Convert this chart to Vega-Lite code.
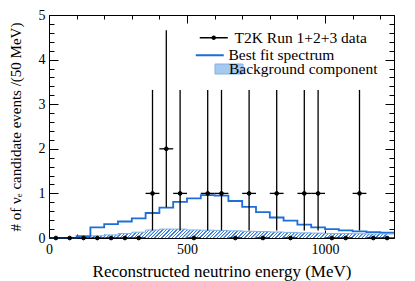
{
  "$schema": "https://vega.github.io/schema/vega-lite/v6.json",
  "width": 345,
  "height": 223,
  "autosize": "none",
  "padding": {"left": 49, "top": 15, "right": 21, "bottom": 43},
  "background": "white",
  "config": {
    "view": {"stroke": "black", "strokeWidth": 1},
    "axis": {
      "labelFont": "Liberation Serif", "titleFont": "Liberation Serif",
      "labelColor": "black", "titleColor": "black", "domainColor": "black", "tickColor": "black",
      "labelFontSize": 14, "titleFontWeight": "normal", "grid": false,
      "labelOverlap": false, "labelFlush": false, "labelBound": false, "domainWidth": 1, "tickWidth": 1
    },
    "legend": {
      "labelFont": "Liberation Serif", "labelFontSize": 15.5, "labelColor": "black",
      "labelOffset": 11, "padding": 0, "symbolSize": 100, "orient": "none"
    }
  },
  "datasets": {
    "data": [
      {"E": 25, "Elo": 0, "Ehi": 50, "n": 0},
      {"E": 75, "Elo": 50, "Ehi": 100, "n": 0},
      {"E": 125, "Elo": 100, "Ehi": 150, "n": 0},
      {"E": 175, "Elo": 150, "Ehi": 200, "n": 0},
      {"E": 225, "Elo": 200, "Ehi": 250, "n": 0},
      {"E": 275, "Elo": 250, "Ehi": 300, "n": 0},
      {"E": 325, "Elo": 300, "Ehi": 350, "n": 0},
      {"E": 375, "Elo": 350, "Ehi": 400, "n": 1, "lo": 0.17, "hi": 3.32},
      {"E": 425, "Elo": 400, "Ehi": 450, "n": 2, "lo": 0.69, "hi": 4.66},
      {"E": 475, "Elo": 450, "Ehi": 500, "n": 1, "lo": 0.17, "hi": 3.32},
      {"E": 525, "Elo": 500, "Ehi": 550, "n": 0},
      {"E": 575, "Elo": 550, "Ehi": 600, "n": 1, "lo": 0.17, "hi": 3.32},
      {"E": 625, "Elo": 600, "Ehi": 650, "n": 1, "lo": 0.17, "hi": 3.32},
      {"E": 675, "Elo": 650, "Ehi": 700, "n": 0},
      {"E": 725, "Elo": 700, "Ehi": 750, "n": 1, "lo": 0.17, "hi": 3.32},
      {"E": 775, "Elo": 750, "Ehi": 800, "n": 0},
      {"E": 825, "Elo": 800, "Ehi": 850, "n": 1, "lo": 0.17, "hi": 3.32},
      {"E": 875, "Elo": 850, "Ehi": 900, "n": 0},
      {"E": 925, "Elo": 900, "Ehi": 950, "n": 1, "lo": 0.17, "hi": 3.32},
      {"E": 975, "Elo": 950, "Ehi": 1000, "n": 1, "lo": 0.17, "hi": 3.32},
      {"E": 1025, "Elo": 1000, "Ehi": 1050, "n": 0},
      {"E": 1075, "Elo": 1050, "Ehi": 1100, "n": 0},
      {"E": 1125, "Elo": 1100, "Ehi": 1150, "n": 1, "lo": 0.17, "hi": 3.32},
      {"E": 1175, "Elo": 1150, "Ehi": 1200, "n": 0},
      {"E": 1225, "Elo": 1200, "Ehi": 1250, "n": 0}
    ],
    "fit": [
      {"E": 0, "v": 0}, {"E": 50, "v": 0}, {"E": 100, "v": 0.04}, {"E": 150, "v": 0.24},
      {"E": 200, "v": 0.31}, {"E": 250, "v": 0.37}, {"E": 300, "v": 0.44}, {"E": 350, "v": 0.56},
      {"E": 400, "v": 0.68}, {"E": 450, "v": 0.81}, {"E": 500, "v": 0.89}, {"E": 550, "v": 0.96},
      {"E": 600, "v": 0.95}, {"E": 650, "v": 0.83}, {"E": 700, "v": 0.7}, {"E": 750, "v": 0.58},
      {"E": 800, "v": 0.46}, {"E": 850, "v": 0.39}, {"E": 900, "v": 0.3}, {"E": 950, "v": 0.24},
      {"E": 1000, "v": 0.2}, {"E": 1050, "v": 0.17}, {"E": 1100, "v": 0.15}, {"E": 1150, "v": 0.13},
      {"E": 1200, "v": 0.12}, {"E": 1250, "v": 0.12}
    ],
    "bg": [
      {"E": 0, "v": 0}, {"E": 50, "v": 0.005}, {"E": 100, "v": 0.025}, {"E": 150, "v": 0.05},
      {"E": 200, "v": 0.07}, {"E": 250, "v": 0.1}, {"E": 300, "v": 0.13}, {"E": 350, "v": 0.18},
      {"E": 400, "v": 0.2}, {"E": 450, "v": 0.2}, {"E": 500, "v": 0.18}, {"E": 550, "v": 0.175},
      {"E": 600, "v": 0.17}, {"E": 650, "v": 0.16}, {"E": 700, "v": 0.15}, {"E": 750, "v": 0.145},
      {"E": 800, "v": 0.135}, {"E": 850, "v": 0.125}, {"E": 900, "v": 0.115}, {"E": 950, "v": 0.11},
      {"E": 1000, "v": 0.1}, {"E": 1050, "v": 0.1}, {"E": 1100, "v": 0.095}, {"E": 1150, "v": 0.09},
      {"E": 1200, "v": 0.09}, {"E": 1250, "v": 0.09}
    ]
  },
  "resolve": {"axis": {"x": "independent", "y": "independent"}},
  "layer": [
    {
      "data": {"name": "bg"},
      "mark": {"type": "area", "interpolate": "step-after", "opacity": 1,
        "color": {"gradient": "linear", "x1": 0, "y1": 0, "x2": 1, "y2": 0.0259, "stops": [
{"offset":0,"color":"#3a80da"},{"offset":0.0035,"color":"#3a80da"},{"offset":0.0045,"color":"#fff"},{"offset":0.0095,"color":"#fff"},
{"offset":0.01,"color":"#3a80da"},{"offset":0.0135,"color":"#3a80da"},{"offset":0.0145,"color":"#fff"},{"offset":0.0195,"color":"#fff"},
{"offset":0.02,"color":"#3a80da"},{"offset":0.0235,"color":"#3a80da"},{"offset":0.0245,"color":"#fff"},{"offset":0.0295,"color":"#fff"},
{"offset":0.03,"color":"#3a80da"},{"offset":0.0335,"color":"#3a80da"},{"offset":0.0345,"color":"#fff"},{"offset":0.0395,"color":"#fff"},
{"offset":0.04,"color":"#3a80da"},{"offset":0.0435,"color":"#3a80da"},{"offset":0.0445,"color":"#fff"},{"offset":0.0495,"color":"#fff"},
{"offset":0.05,"color":"#3a80da"},{"offset":0.0535,"color":"#3a80da"},{"offset":0.0545,"color":"#fff"},{"offset":0.0595,"color":"#fff"},
{"offset":0.06,"color":"#3a80da"},{"offset":0.0635,"color":"#3a80da"},{"offset":0.0645,"color":"#fff"},{"offset":0.0695,"color":"#fff"},
{"offset":0.07,"color":"#3a80da"},{"offset":0.0735,"color":"#3a80da"},{"offset":0.0745,"color":"#fff"},{"offset":0.0795,"color":"#fff"},
{"offset":0.08,"color":"#3a80da"},{"offset":0.0835,"color":"#3a80da"},{"offset":0.0845,"color":"#fff"},{"offset":0.0895,"color":"#fff"},
{"offset":0.09,"color":"#3a80da"},{"offset":0.0935,"color":"#3a80da"},{"offset":0.0945,"color":"#fff"},{"offset":0.0995,"color":"#fff"},
{"offset":0.10,"color":"#3a80da"},{"offset":0.1035,"color":"#3a80da"},{"offset":0.1045,"color":"#fff"},{"offset":0.1095,"color":"#fff"},
{"offset":0.11,"color":"#3a80da"},{"offset":0.1135,"color":"#3a80da"},{"offset":0.1145,"color":"#fff"},{"offset":0.1195,"color":"#fff"},
{"offset":0.12,"color":"#3a80da"},{"offset":0.1235,"color":"#3a80da"},{"offset":0.1245,"color":"#fff"},{"offset":0.1295,"color":"#fff"},
{"offset":0.13,"color":"#3a80da"},{"offset":0.1335,"color":"#3a80da"},{"offset":0.1345,"color":"#fff"},{"offset":0.1395,"color":"#fff"},
{"offset":0.14,"color":"#3a80da"},{"offset":0.1435,"color":"#3a80da"},{"offset":0.1445,"color":"#fff"},{"offset":0.1495,"color":"#fff"},
{"offset":0.15,"color":"#3a80da"},{"offset":0.1535,"color":"#3a80da"},{"offset":0.1545,"color":"#fff"},{"offset":0.1595,"color":"#fff"},
{"offset":0.16,"color":"#3a80da"},{"offset":0.1635,"color":"#3a80da"},{"offset":0.1645,"color":"#fff"},{"offset":0.1695,"color":"#fff"},
{"offset":0.17,"color":"#3a80da"},{"offset":0.1735,"color":"#3a80da"},{"offset":0.1745,"color":"#fff"},{"offset":0.1795,"color":"#fff"},
{"offset":0.18,"color":"#3a80da"},{"offset":0.1835,"color":"#3a80da"},{"offset":0.1845,"color":"#fff"},{"offset":0.1895,"color":"#fff"},
{"offset":0.19,"color":"#3a80da"},{"offset":0.1935,"color":"#3a80da"},{"offset":0.1945,"color":"#fff"},{"offset":0.1995,"color":"#fff"},
{"offset":0.20,"color":"#3a80da"},{"offset":0.2035,"color":"#3a80da"},{"offset":0.2045,"color":"#fff"},{"offset":0.2095,"color":"#fff"},
{"offset":0.21,"color":"#3a80da"},{"offset":0.2135,"color":"#3a80da"},{"offset":0.2145,"color":"#fff"},{"offset":0.2195,"color":"#fff"},
{"offset":0.22,"color":"#3a80da"},{"offset":0.2235,"color":"#3a80da"},{"offset":0.2245,"color":"#fff"},{"offset":0.2295,"color":"#fff"},
{"offset":0.23,"color":"#3a80da"},{"offset":0.2335,"color":"#3a80da"},{"offset":0.2345,"color":"#fff"},{"offset":0.2395,"color":"#fff"},
{"offset":0.24,"color":"#3a80da"},{"offset":0.2435,"color":"#3a80da"},{"offset":0.2445,"color":"#fff"},{"offset":0.2495,"color":"#fff"},
{"offset":0.25,"color":"#3a80da"},{"offset":0.2535,"color":"#3a80da"},{"offset":0.2545,"color":"#fff"},{"offset":0.2595,"color":"#fff"},
{"offset":0.26,"color":"#3a80da"},{"offset":0.2635,"color":"#3a80da"},{"offset":0.2645,"color":"#fff"},{"offset":0.2695,"color":"#fff"},
{"offset":0.27,"color":"#3a80da"},{"offset":0.2735,"color":"#3a80da"},{"offset":0.2745,"color":"#fff"},{"offset":0.2795,"color":"#fff"},
{"offset":0.28,"color":"#3a80da"},{"offset":0.2835,"color":"#3a80da"},{"offset":0.2845,"color":"#fff"},{"offset":0.2895,"color":"#fff"},
{"offset":0.29,"color":"#3a80da"},{"offset":0.2935,"color":"#3a80da"},{"offset":0.2945,"color":"#fff"},{"offset":0.2995,"color":"#fff"},
{"offset":0.30,"color":"#3a80da"},{"offset":0.3035,"color":"#3a80da"},{"offset":0.3045,"color":"#fff"},{"offset":0.3095,"color":"#fff"},
{"offset":0.31,"color":"#3a80da"},{"offset":0.3135,"color":"#3a80da"},{"offset":0.3145,"color":"#fff"},{"offset":0.3195,"color":"#fff"},
{"offset":0.32,"color":"#3a80da"},{"offset":0.3235,"color":"#3a80da"},{"offset":0.3245,"color":"#fff"},{"offset":0.3295,"color":"#fff"},
{"offset":0.33,"color":"#3a80da"},{"offset":0.3335,"color":"#3a80da"},{"offset":0.3345,"color":"#fff"},{"offset":0.3395,"color":"#fff"},
{"offset":0.34,"color":"#3a80da"},{"offset":0.3435,"color":"#3a80da"},{"offset":0.3445,"color":"#fff"},{"offset":0.3495,"color":"#fff"},
{"offset":0.35,"color":"#3a80da"},{"offset":0.3535,"color":"#3a80da"},{"offset":0.3545,"color":"#fff"},{"offset":0.3595,"color":"#fff"},
{"offset":0.36,"color":"#3a80da"},{"offset":0.3635,"color":"#3a80da"},{"offset":0.3645,"color":"#fff"},{"offset":0.3695,"color":"#fff"},
{"offset":0.37,"color":"#3a80da"},{"offset":0.3735,"color":"#3a80da"},{"offset":0.3745,"color":"#fff"},{"offset":0.3795,"color":"#fff"},
{"offset":0.38,"color":"#3a80da"},{"offset":0.3835,"color":"#3a80da"},{"offset":0.3845,"color":"#fff"},{"offset":0.3895,"color":"#fff"},
{"offset":0.39,"color":"#3a80da"},{"offset":0.3935,"color":"#3a80da"},{"offset":0.3945,"color":"#fff"},{"offset":0.3995,"color":"#fff"},
{"offset":0.40,"color":"#3a80da"},{"offset":0.4035,"color":"#3a80da"},{"offset":0.4045,"color":"#fff"},{"offset":0.4095,"color":"#fff"},
{"offset":0.41,"color":"#3a80da"},{"offset":0.4135,"color":"#3a80da"},{"offset":0.4145,"color":"#fff"},{"offset":0.4195,"color":"#fff"},
{"offset":0.42,"color":"#3a80da"},{"offset":0.4235,"color":"#3a80da"},{"offset":0.4245,"color":"#fff"},{"offset":0.4295,"color":"#fff"},
{"offset":0.43,"color":"#3a80da"},{"offset":0.4335,"color":"#3a80da"},{"offset":0.4345,"color":"#fff"},{"offset":0.4395,"color":"#fff"},
{"offset":0.44,"color":"#3a80da"},{"offset":0.4435,"color":"#3a80da"},{"offset":0.4445,"color":"#fff"},{"offset":0.4495,"color":"#fff"},
{"offset":0.45,"color":"#3a80da"},{"offset":0.4535,"color":"#3a80da"},{"offset":0.4545,"color":"#fff"},{"offset":0.4595,"color":"#fff"},
{"offset":0.46,"color":"#3a80da"},{"offset":0.4635,"color":"#3a80da"},{"offset":0.4645,"color":"#fff"},{"offset":0.4695,"color":"#fff"},
{"offset":0.47,"color":"#3a80da"},{"offset":0.4735,"color":"#3a80da"},{"offset":0.4745,"color":"#fff"},{"offset":0.4795,"color":"#fff"},
{"offset":0.48,"color":"#3a80da"},{"offset":0.4835,"color":"#3a80da"},{"offset":0.4845,"color":"#fff"},{"offset":0.4895,"color":"#fff"},
{"offset":0.49,"color":"#3a80da"},{"offset":0.4935,"color":"#3a80da"},{"offset":0.4945,"color":"#fff"},{"offset":0.4995,"color":"#fff"},
{"offset":0.50,"color":"#3a80da"},{"offset":0.5035,"color":"#3a80da"},{"offset":0.5045,"color":"#fff"},{"offset":0.5095,"color":"#fff"},
{"offset":0.51,"color":"#3a80da"},{"offset":0.5135,"color":"#3a80da"},{"offset":0.5145,"color":"#fff"},{"offset":0.5195,"color":"#fff"},
{"offset":0.52,"color":"#3a80da"},{"offset":0.5235,"color":"#3a80da"},{"offset":0.5245,"color":"#fff"},{"offset":0.5295,"color":"#fff"},
{"offset":0.53,"color":"#3a80da"},{"offset":0.5335,"color":"#3a80da"},{"offset":0.5345,"color":"#fff"},{"offset":0.5395,"color":"#fff"},
{"offset":0.54,"color":"#3a80da"},{"offset":0.5435,"color":"#3a80da"},{"offset":0.5445,"color":"#fff"},{"offset":0.5495,"color":"#fff"},
{"offset":0.55,"color":"#3a80da"},{"offset":0.5535,"color":"#3a80da"},{"offset":0.5545,"color":"#fff"},{"offset":0.5595,"color":"#fff"},
{"offset":0.56,"color":"#3a80da"},{"offset":0.5635,"color":"#3a80da"},{"offset":0.5645,"color":"#fff"},{"offset":0.5695,"color":"#fff"},
{"offset":0.57,"color":"#3a80da"},{"offset":0.5735,"color":"#3a80da"},{"offset":0.5745,"color":"#fff"},{"offset":0.5795,"color":"#fff"},
{"offset":0.58,"color":"#3a80da"},{"offset":0.5835,"color":"#3a80da"},{"offset":0.5845,"color":"#fff"},{"offset":0.5895,"color":"#fff"},
{"offset":0.59,"color":"#3a80da"},{"offset":0.5935,"color":"#3a80da"},{"offset":0.5945,"color":"#fff"},{"offset":0.5995,"color":"#fff"},
{"offset":0.60,"color":"#3a80da"},{"offset":0.6035,"color":"#3a80da"},{"offset":0.6045,"color":"#fff"},{"offset":0.6095,"color":"#fff"},
{"offset":0.61,"color":"#3a80da"},{"offset":0.6135,"color":"#3a80da"},{"offset":0.6145,"color":"#fff"},{"offset":0.6195,"color":"#fff"},
{"offset":0.62,"color":"#3a80da"},{"offset":0.6235,"color":"#3a80da"},{"offset":0.6245,"color":"#fff"},{"offset":0.6295,"color":"#fff"},
{"offset":0.63,"color":"#3a80da"},{"offset":0.6335,"color":"#3a80da"},{"offset":0.6345,"color":"#fff"},{"offset":0.6395,"color":"#fff"},
{"offset":0.64,"color":"#3a80da"},{"offset":0.6435,"color":"#3a80da"},{"offset":0.6445,"color":"#fff"},{"offset":0.6495,"color":"#fff"},
{"offset":0.65,"color":"#3a80da"},{"offset":0.6535,"color":"#3a80da"},{"offset":0.6545,"color":"#fff"},{"offset":0.6595,"color":"#fff"},
{"offset":0.66,"color":"#3a80da"},{"offset":0.6635,"color":"#3a80da"},{"offset":0.6645,"color":"#fff"},{"offset":0.6695,"color":"#fff"},
{"offset":0.67,"color":"#3a80da"},{"offset":0.6735,"color":"#3a80da"},{"offset":0.6745,"color":"#fff"},{"offset":0.6795,"color":"#fff"},
{"offset":0.68,"color":"#3a80da"},{"offset":0.6835,"color":"#3a80da"},{"offset":0.6845,"color":"#fff"},{"offset":0.6895,"color":"#fff"},
{"offset":0.69,"color":"#3a80da"},{"offset":0.6935,"color":"#3a80da"},{"offset":0.6945,"color":"#fff"},{"offset":0.6995,"color":"#fff"},
{"offset":0.70,"color":"#3a80da"},{"offset":0.7035,"color":"#3a80da"},{"offset":0.7045,"color":"#fff"},{"offset":0.7095,"color":"#fff"},
{"offset":0.71,"color":"#3a80da"},{"offset":0.7135,"color":"#3a80da"},{"offset":0.7145,"color":"#fff"},{"offset":0.7195,"color":"#fff"},
{"offset":0.72,"color":"#3a80da"},{"offset":0.7235,"color":"#3a80da"},{"offset":0.7245,"color":"#fff"},{"offset":0.7295,"color":"#fff"},
{"offset":0.73,"color":"#3a80da"},{"offset":0.7335,"color":"#3a80da"},{"offset":0.7345,"color":"#fff"},{"offset":0.7395,"color":"#fff"},
{"offset":0.74,"color":"#3a80da"},{"offset":0.7435,"color":"#3a80da"},{"offset":0.7445,"color":"#fff"},{"offset":0.7495,"color":"#fff"},
{"offset":0.75,"color":"#3a80da"},{"offset":0.7535,"color":"#3a80da"},{"offset":0.7545,"color":"#fff"},{"offset":0.7595,"color":"#fff"},
{"offset":0.76,"color":"#3a80da"},{"offset":0.7635,"color":"#3a80da"},{"offset":0.7645,"color":"#fff"},{"offset":0.7695,"color":"#fff"},
{"offset":0.77,"color":"#3a80da"},{"offset":0.7735,"color":"#3a80da"},{"offset":0.7745,"color":"#fff"},{"offset":0.7795,"color":"#fff"},
{"offset":0.78,"color":"#3a80da"},{"offset":0.7835,"color":"#3a80da"},{"offset":0.7845,"color":"#fff"},{"offset":0.7895,"color":"#fff"},
{"offset":0.79,"color":"#3a80da"},{"offset":0.7935,"color":"#3a80da"},{"offset":0.7945,"color":"#fff"},{"offset":0.7995,"color":"#fff"},
{"offset":0.80,"color":"#3a80da"},{"offset":0.8035,"color":"#3a80da"},{"offset":0.8045,"color":"#fff"},{"offset":0.8095,"color":"#fff"},
{"offset":0.81,"color":"#3a80da"},{"offset":0.8135,"color":"#3a80da"},{"offset":0.8145,"color":"#fff"},{"offset":0.8195,"color":"#fff"},
{"offset":0.82,"color":"#3a80da"},{"offset":0.8235,"color":"#3a80da"},{"offset":0.8245,"color":"#fff"},{"offset":0.8295,"color":"#fff"},
{"offset":0.83,"color":"#3a80da"},{"offset":0.8335,"color":"#3a80da"},{"offset":0.8345,"color":"#fff"},{"offset":0.8395,"color":"#fff"},
{"offset":0.84,"color":"#3a80da"},{"offset":0.8435,"color":"#3a80da"},{"offset":0.8445,"color":"#fff"},{"offset":0.8495,"color":"#fff"},
{"offset":0.85,"color":"#3a80da"},{"offset":0.8535,"color":"#3a80da"},{"offset":0.8545,"color":"#fff"},{"offset":0.8595,"color":"#fff"},
{"offset":0.86,"color":"#3a80da"},{"offset":0.8635,"color":"#3a80da"},{"offset":0.8645,"color":"#fff"},{"offset":0.8695,"color":"#fff"},
{"offset":0.87,"color":"#3a80da"},{"offset":0.8735,"color":"#3a80da"},{"offset":0.8745,"color":"#fff"},{"offset":0.8795,"color":"#fff"},
{"offset":0.88,"color":"#3a80da"},{"offset":0.8835,"color":"#3a80da"},{"offset":0.8845,"color":"#fff"},{"offset":0.8895,"color":"#fff"},
{"offset":0.89,"color":"#3a80da"},{"offset":0.8935,"color":"#3a80da"},{"offset":0.8945,"color":"#fff"},{"offset":0.8995,"color":"#fff"},
{"offset":0.90,"color":"#3a80da"},{"offset":0.9035,"color":"#3a80da"},{"offset":0.9045,"color":"#fff"},{"offset":0.9095,"color":"#fff"},
{"offset":0.91,"color":"#3a80da"},{"offset":0.9135,"color":"#3a80da"},{"offset":0.9145,"color":"#fff"},{"offset":0.9195,"color":"#fff"},
{"offset":0.92,"color":"#3a80da"},{"offset":0.9235,"color":"#3a80da"},{"offset":0.9245,"color":"#fff"},{"offset":0.9295,"color":"#fff"},
{"offset":0.93,"color":"#3a80da"},{"offset":0.9335,"color":"#3a80da"},{"offset":0.9345,"color":"#fff"},{"offset":0.9395,"color":"#fff"},
{"offset":0.94,"color":"#3a80da"},{"offset":0.9435,"color":"#3a80da"},{"offset":0.9445,"color":"#fff"},{"offset":0.9495,"color":"#fff"},
{"offset":0.95,"color":"#3a80da"},{"offset":0.9535,"color":"#3a80da"},{"offset":0.9545,"color":"#fff"},{"offset":0.9595,"color":"#fff"},
{"offset":0.96,"color":"#3a80da"},{"offset":0.9635,"color":"#3a80da"},{"offset":0.9645,"color":"#fff"},{"offset":0.9695,"color":"#fff"},
{"offset":0.97,"color":"#3a80da"},{"offset":0.9735,"color":"#3a80da"},{"offset":0.9745,"color":"#fff"},{"offset":0.9795,"color":"#fff"},
{"offset":0.98,"color":"#3a80da"},{"offset":0.9835,"color":"#3a80da"},{"offset":0.9845,"color":"#fff"},{"offset":0.9895,"color":"#fff"},
{"offset":0.99,"color":"#3a80da"},{"offset":0.9935,"color":"#3a80da"},{"offset":0.9945,"color":"#fff"},{"offset":1,"color":"#fff"}
        ]}},
      "encoding": {
        "x": {"field": "E", "type": "quantitative",
              "scale": {"domain": [0, 1250], "nice": false, "zero": false},
              "axis": {"orient": "bottom", "title": "Reconstructed neutrino energy (MeV)",
                       "titleFontSize": 17, "titleY": 38, "titleBaseline": "alphabetic",
                       "values": [0, 100, 200, 300, 400, 500, 600, 700, 800, 900, 1000, 1100, 1200],
                       "tickSize": {"condition": {"test": "datum.value % 500 === 0", "value": -8}, "value": -4},
                       "labelExpr": "datum.value % 500 === 0 ? format(datum.value, 'd') : ''",
                       "labelPadding": 12}},
        "y": {"field": "v", "type": "quantitative",
              "scale": {"domain": [0, 5], "nice": false},
              "axis": {"orient": "left", "title": "# of νₑ candidate events /(50 MeV)",
                       "titleFontSize": 15, "titleX": -29, "titleBaseline": "alphabetic",
                       "values": [0, 0.2, 0.4, 0.6, 0.8, 1, 1.2, 1.4, 1.6, 1.8, 2, 2.2, 2.4, 2.6, 2.8, 3, 3.2, 3.4, 3.6, 3.8, 4, 4.2, 4.4, 4.6, 4.8, 5],
                       "tickSize": {"condition": {"test": "datum.value % 1 === 0", "value": -9}, "value": -5},
                       "labelExpr": "datum.value % 1 === 0 ? format(datum.value, 'd') : ''",
                       "labelPadding": 13}}
      }
    },
    {
      "data": {"name": "bg"},
      "mark": {"type": "line", "interpolate": "step-after", "color": "#7fb2ea"},
      "encoding": {
        "x": {"field": "E", "type": "quantitative", "axis": null},
        "y": {"field": "v", "type": "quantitative", "axis": null},
        "strokeWidth": {"datum": "Background component", "type": "ordinal",
                        "scale": {"range": [1.2]},
                        "legend": {"orient": "none", "legendX": 180, "legendY": 54, "title": null,
                                   "symbolOffset": -15,
                                   "symbolType": "M-2.8,-1H2.8V1H-2.8Z", "symbolStrokeColor": "#7fb2ea",
                                   "symbolFillColor": "#a6c9ef"}}
      }
    },
    {
      "data": {"name": "fit"},
      "mark": {"type": "line", "interpolate": "step-after", "strokeWidth": 1.8, "color": "#1c6fd8"},
      "encoding": {
        "x": {"field": "E", "type": "quantitative",
              "axis": {"orient": "top", "title": null, "labels": false,
                       "values": [0, 100, 200, 300, 400, 500, 600, 700, 800, 900, 1000, 1100, 1200],
                       "tickSize": {"condition": {"test": "datum.value % 500 === 0", "value": -8}, "value": -4}}},
        "y": {"field": "v", "type": "quantitative",
              "axis": {"orient": "right", "title": null, "labels": false,
                       "values": [0, 0.2, 0.4, 0.6, 0.8, 1, 1.2, 1.4, 1.6, 1.8, 2, 2.2, 2.4, 2.6, 2.8, 3, 3.2, 3.4, 3.6, 3.8, 4, 4.2, 4.4, 4.6, 4.8, 5],
                       "tickSize": {"condition": {"test": "datum.value % 1 === 0", "value": -9}, "value": -5}}},
        "strokeDash": {"datum": "Best fit spectrum", "type": "nominal",
                       "scale": {"range": [[1, 0]]},
                       "legend": {"orient": "none", "legendX": 153, "legendY": 32.5, "title": null,
                                  "symbolType": "M-2.8,0H2.8", "symbolStrokeColor": "#1c6fd8",
                                  "symbolStrokeWidth": 2}}
      }
    },
    {
      "data": {"name": "data"},
      "transform": [{"filter": "datum.n > 0"}],
      "mark": {"type": "rule", "color": "black", "strokeWidth": 1.3},
      "encoding": {
        "x": {"field": "E", "type": "quantitative", "axis": null},
        "y": {"field": "lo", "type": "quantitative", "axis": null},
        "y2": {"field": "hi"}
      }
    },
    {
      "data": {"name": "data"},
      "mark": {"type": "rule", "color": "black", "strokeWidth": 1.3},
      "encoding": {
        "x": {"field": "Elo", "type": "quantitative", "axis": null},
        "x2": {"field": "Ehi"},
        "y": {"field": "n", "type": "quantitative", "axis": null}
      }
    },
    {
      "data": {"name": "data"},
      "mark": {"type": "point", "filled": true, "size": 14, "shape": "circle", "color": "black", "stroke": "black", "strokeWidth": 1},
      "encoding": {
        "x": {"field": "E", "type": "quantitative", "axis": null},
        "y": {"field": "n", "type": "quantitative", "axis": null},
        "opacity": {"datum": "T2K Run 1+2+3 data", "type": "ordinal",
                    "scale": {"range": [1]},
                    "legend": {"orient": "none", "legendX": 157, "legendY": 15, "title": null,
                               "labelOffset": 13,
                               "symbolType": "M-2.8,-0.13H2.8V0.13H-2.8ZM-0.45,0A0.45,0.45,0,1,1,0.45,0A0.45,0.45,0,1,1,-0.45,0Z",
                               "symbolFillColor": "black", "symbolStrokeColor": "black", "symbolStrokeWidth": 0.5}}
      }
    }
  ]
}
